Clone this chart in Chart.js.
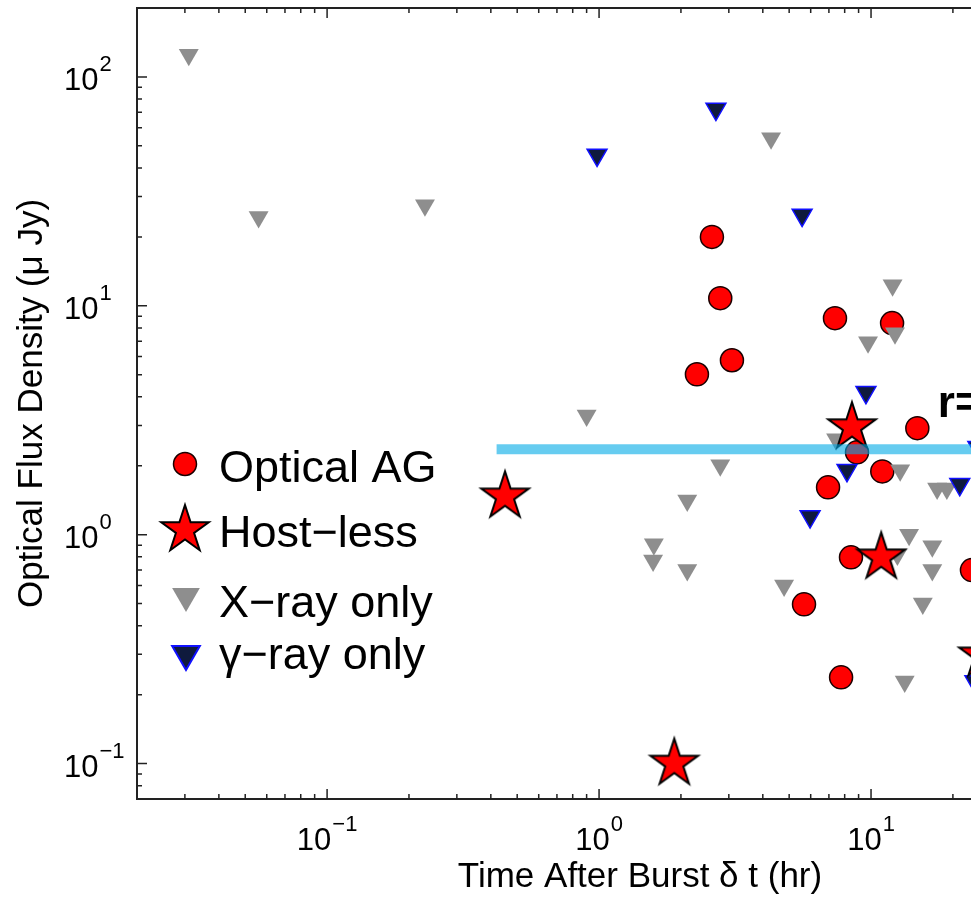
<!DOCTYPE html>
<html lang="en">
<head>
  <meta charset="UTF-8">
  <title>Optical Flux Density vs Time After Burst</title>
  <script src="https://cdn.jsdelivr.net/npm/chart.js"></script>
  <style>
    html, body { margin: 0; padding: 0; background: #fff; overflow: hidden; }
    #holder { width: 1200px; height: 897px; }
  </style>
</head>
<body>
  <div id="holder">
    <canvas id="myChart" width="1200" height="897"></canvas>
  </div>

<script>
  // optical afterglows (hr, uJy)
  const agTime = [2.60, 2.79, 2.29, 3.08, 7.37, 11.95, 14.8, 8.88, 11.0, 6.95, 8.44, 5.67, 7.76, 23.5];
  const agFlux = [20.0, 10.8, 5.02, 5.78, 8.83, 8.40, 2.92, 2.29, 1.89, 1.61, 0.796, 0.496, 0.238, 0.70];

  // host-less bursts
  const hostlessTime = [0.451, 1.89, 8.51, 10.9, 25.8];
  const hostlessFlux = [1.47, 0.100, 2.95, 0.796, 0.297];

  // upper limits, x-ray detected only
  const xrayTime = [0.031, 0.056, 0.229, 4.29, 12.0, 0.90, 2.79, 2.11, 1.59, 1.58, 2.11, 4.79,
                    9.75, 12.25, 7.44, 12.8, 17.5, 19.0, 13.8, 16.8, 16.8, 12.5, 15.5, 13.3];
  const xrayFlux = [125, 24.4, 27.5, 54, 12.3, 3.32, 2.01, 1.41, 0.907, 0.772, 0.70, 0.60,
                    6.93, 7.59, 2.61, 1.91, 1.59, 1.59, 1.0, 0.889, 0.70, 0.82, 0.50, 0.228];

  // upper limits, gamma-ray only
  const gammaTime = [0.983, 2.69, 5.58, 9.58, 8.16, 5.97, 21.2, 24.1, 24.7];
  const gammaFlux = [45.6, 72.4, 24.9, 4.19, 1.91, 1.20, 1.66, 0.228, 2.41];

  // horizontal cut line
  const cutTime = [0.42, 100];
  const cutFlux = [2.36, 2.36];

  // annotation (cut off on the right in the original)
  const noteText = 'r=';
  const noteTime = 17.6;
  const noteFlux = 3.26;

  // axes
  const xMin = 0.02, xMax = 100;
  const yMin = 0.07, yMax = 200;
  const xMajorTicks = [0.1, 1, 10, 100];
  const xMajorExp = ['\u22121', '0', '1', '2'];
  const xMinorTicks = [0.03, 0.04, 0.05, 0.06, 0.07, 0.08, 0.09,
                       0.2, 0.3, 0.4, 0.5, 0.6, 0.7, 0.8, 0.9,
                       2, 3, 4, 5, 6, 7, 8, 9, 20, 30, 40, 50, 60, 70, 80, 90];
  const yMajorTicks = [0.1, 1, 10, 100];
  const yMajorExp = ['\u22121', '0', '1', '2'];
  const yMinorTicks = [0.08, 0.09, 0.2, 0.3, 0.4, 0.5, 0.6, 0.7, 0.8, 0.9,
                       2, 3, 4, 5, 6, 7, 8, 9, 20, 30, 40, 50, 60, 70, 80, 90];

  const xTitle = 'Time After Burst \u03b4 t (hr)';
  const yTitle = 'Optical Flux Density (\u03bc Jy)';
  const legendLabels = ['Optical AG', 'Host\u2212less', 'X\u2212ray only', '\u03b3\u2212ray only'];

  const FONT = '"Liberation Sans", Arial, Helvetica, sans-serif';

  function pts(xs, ys) {
    return xs.map((x, i) => ({ x: x, y: ys[i] }));
  }

  function makeStar(R, fill, stroke, lw) {
    const size = Math.ceil(2 * R + 2 * lw + 6);
    const c = document.createElement('canvas');
    c.width = size; c.height = size;
    const g = c.getContext('2d');
    const cx = size / 2, cy = size / 2, r = R * 0.382;
    g.beginPath();
    for (let i = 0; i < 10; i++) {
      const rad = i % 2 === 0 ? R : r;
      const ang = -Math.PI / 2 + i * Math.PI / 5;
      g.lineTo(cx + rad * Math.cos(ang), cy + rad * Math.sin(ang));
    }
    g.closePath();
    g.fillStyle = fill; g.fill();
    g.lineWidth = lw; g.strokeStyle = stroke; g.lineJoin = 'miter'; g.stroke();
    return c;
  }

  const starImg = makeStar(25, '#ff0000', '#000000', 2);

  function downTriangle(ctx, x, y, r) {
    // y is the centre of the bounding box
    const cy = y - r / 4;
    ctx.beginPath();
    ctx.moveTo(x, cy + r);
    ctx.lineTo(x - 0.866 * r, cy - r / 2);
    ctx.lineTo(x + 0.866 * r, cy - r / 2);
    ctx.closePath();
  }

  function drawPow(ctx, exp, x, y, align) {
    ctx.font = '31px ' + FONT;
    const wBase = ctx.measureText('10').width;
    ctx.font = '22px ' + FONT;
    const wExp = ctx.measureText(exp).width;
    const x0 = align === 'center' ? x - (wBase + wExp + 1) / 2 : x;
    ctx.textAlign = 'left';
    ctx.textBaseline = 'alphabetic';
    ctx.font = '31px ' + FONT;
    ctx.fillText('10', x0, y);
    ctx.font = '22px ' + FONT;
    ctx.fillText(exp, x0 + wBase + 1, y - 19);
  }

  const axesPlugin = {
    id: 'boxAxes',
    afterDraw(chart) {
      const ctx = chart.ctx;
      const a = chart.chartArea;
      const xs = chart.scales.x, ys = chart.scales.y;
      ctx.save();
      ctx.fillStyle = '#000';

      // frame
      ctx.strokeStyle = '#222';
      ctx.lineWidth = 2;
      ctx.strokeRect(a.left, a.top, a.right - a.left, a.bottom - a.top);

      // inward ticks
      ctx.lineWidth = 1.5;
      ctx.beginPath();
      xs.ticks.forEach(t => {
        const px = xs.getPixelForValue(t.value);
        if (px <= a.left + 1 || px >= a.right - 1) return;
        const len = t.major ? 10 : 5;
        ctx.moveTo(px, a.bottom); ctx.lineTo(px, a.bottom - len);
        ctx.moveTo(px, a.top); ctx.lineTo(px, a.top + len);
      });
      ys.ticks.forEach(t => {
        const py = ys.getPixelForValue(t.value);
        if (py <= a.top + 1 || py >= a.bottom - 1) return;
        const len = t.major ? 10 : 5;
        ctx.moveTo(a.left, py); ctx.lineTo(a.left + len, py);
        ctx.moveTo(a.right, py); ctx.lineTo(a.right - len, py);
      });
      ctx.stroke();

      // tick labels
      xMajorTicks.forEach((v, i) => {
        drawPow(ctx, xMajorExp[i], xs.getPixelForValue(v), a.bottom + 51, 'center');
      });
      yMajorTicks.forEach((v, i) => {
        drawPow(ctx, yMajorExp[i], 64, ys.getPixelForValue(v) + 13.5, 'left');
      });

      // axis titles
      ctx.font = '35px ' + FONT;
      ctx.textAlign = 'center';
      ctx.textBaseline = 'alphabetic';
      ctx.fillText(xTitle, (a.left + a.right) / 2, 887);
      ctx.save();
      ctx.translate(42, (a.top + a.bottom) / 2);
      ctx.rotate(-Math.PI / 2);
      ctx.fillText(yTitle, 0, 0);
      ctx.restore();

      // annotation
      ctx.font = 'bold 44px ' + FONT;
      ctx.textAlign = 'left';
      ctx.fillText(noteText, xs.getPixelForValue(noteTime), ys.getPixelForValue(noteFlux));

      // legend
      const ds = chart.data.datasets;
      const lx = 185;
      const rowY = [464, 530, 600, 658];
      const textY = [482, 547, 617, 669];
      const ag = ds[4], hl = ds[1], xr = ds[3], gr = ds[2];

      ctx.beginPath();
      ctx.arc(lx, rowY[0], 11.5, 0, Math.PI * 2);
      ctx.fillStyle = ag.backgroundColor; ctx.fill();
      ctx.lineWidth = ag.borderWidth; ctx.strokeStyle = ag.borderColor; ctx.stroke();

      ctx.drawImage(hl.pointStyle, lx - hl.pointStyle.width / 2, rowY[1] - hl.pointStyle.height / 2);

      downTriangle(ctx, lx + 1, rowY[2], 16);
      ctx.fillStyle = xr.backgroundColor; ctx.fill();

      downTriangle(ctx, lx + 1, rowY[3], 16);
      ctx.fillStyle = gr.backgroundColor; ctx.fill();
      ctx.lineWidth = 2; ctx.strokeStyle = gr.borderColor; ctx.stroke();

      ctx.fillStyle = '#000';
      ctx.font = '45px ' + FONT;
      ctx.textAlign = 'left';
      legendLabels.forEach((lab, i) => ctx.fillText(lab, 219, textY[i]));

      ctx.restore();
    }
  };

  function setTicks(major, minor) {
    return function (scale) {
      const all = major.map(v => ({ value: v, major: true }))
        .concat(minor.map(v => ({ value: v, major: false })));
      all.sort((p, q) => p.value - q.value);
      scale.ticks = all;
    };
  }

  function fixBox(w, h) {
    return function (s) {
      if (w !== null) s.width = w;
      if (h !== null) s.height = h;
      s.paddingTop = 0; s.paddingBottom = 0;
      s.paddingLeft = 0; s.paddingRight = 0;
    };
  }

  new Chart(document.getElementById('myChart'), {
    type: 'scatter',
    data: {
      datasets: [
        {
          label: 'cut',
          data: pts(cutTime, cutFlux),
          showLine: true,
          borderColor: 'rgba(0, 170, 230, 0.6)',
          borderWidth: 10,
          borderCapStyle: 'butt',
          pointRadius: 0
        },
        {
          label: legendLabels[1],
          data: pts(hostlessTime, hostlessFlux),
          pointStyle: starImg,
          pointRadius: 25
        },
        {
          label: legendLabels[3],
          data: pts(gammaTime, gammaFlux),
          pointStyle: 'triangle',
          pointRotation: 180,
          pointRadius: 11.5,
          backgroundColor: '#0f1a3d',
          borderColor: '#1010ff',
          borderWidth: 1.5
        },
        {
          label: legendLabels[2],
          data: pts(xrayTime, xrayFlux),
          pointStyle: 'triangle',
          pointRotation: 180,
          pointRadius: 11.5,
          backgroundColor: '#8e8e8e',
          borderColor: '#8e8e8e',
          borderWidth: 0
        },
        {
          label: legendLabels[0],
          data: pts(agTime, agFlux),
          pointStyle: 'circle',
          pointRadius: 11.5,
          backgroundColor: '#ff0000',
          borderColor: '#1a0000',
          borderWidth: 1.5
        }
      ]
    },
    options: {
      responsive: false,
      animation: false,
      devicePixelRatio: 1,
      events: [],
      layout: { autoPadding: false, padding: { left: 0, top: 8, right: 57, bottom: 0 } },
      plugins: { legend: { display: false }, tooltip: { enabled: false } },
      scales: {
        x: {
          type: 'logarithmic',
          min: xMin, max: xMax,
          bounds: 'data',
          grid: { display: false },
          border: { display: false },
          ticks: { display: false },
          afterBuildTicks: setTicks(xMajorTicks, xMinorTicks),
          afterFit: fixBox(null, 98)
        },
        y: {
          type: 'logarithmic',
          min: yMin, max: yMax,
          bounds: 'data',
          grid: { display: false },
          border: { display: false },
          ticks: { display: false },
          afterBuildTicks: setTicks(yMajorTicks, yMinorTicks),
          afterFit: fixBox(137, null)
        }
      }
    },
    plugins: [axesPlugin]
  });
</script>
</body>
</html>
